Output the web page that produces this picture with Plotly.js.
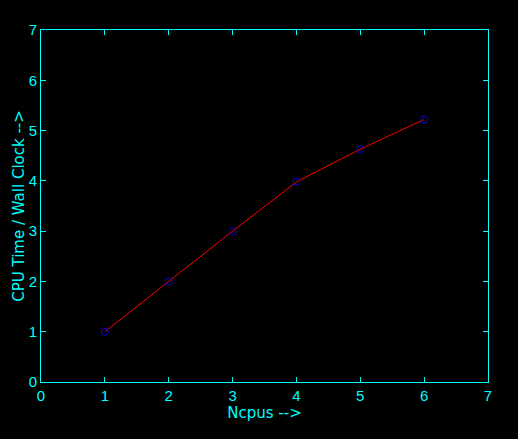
<!DOCTYPE html>
<html><head><meta charset="utf-8">
<script src="https://cdn.plot.ly/plotly-3.0.1.min.js"></script>
<style>html,body{margin:0;padding:0;background:#000;}#plot{width:518px;height:439px;}</style>
</head><body><div id="plot"></div>
<script>
const ncpus = [1, 2, 3, 4, 5, 6];
const ratio = [1.0, 2.0, 3.0, 3.98, 4.63, 5.22];
const tickVals = [0, 1, 2, 3, 4, 5, 6, 7];
const cyan = '#00ffff';
const tickFont = {family: 'Liberation Sans, Arial, sans-serif', size: 15, color: cyan};
const titleFont = {family: 'DejaVu Sans, sans-serif', size: 15, color: cyan};
const axisCommon = {
  range: [0, 7], tickvals: tickVals, ticks: 'inside', ticklen: 5, tickcolor: cyan,
  showline: true, linecolor: cyan, linewidth: 1, mirror: 'ticks', showgrid: false,
  zeroline: false, tickfont: tickFont
};
Plotly.newPlot('plot', [
  {x: ncpus, y: ratio, mode: 'lines', line: {color: '#ff0000', width: 1}, hoverinfo: 'skip'},
  {x: ncpus, y: ratio, mode: 'markers', marker: {symbol: 'circle-open', size: 7, color: '#0000ff', line: {width: 1, color: '#0000ff'}}}
], {
  width: 518, height: 439, paper_bgcolor: '#000', plot_bgcolor: '#000',
  margin: {l: 41, r: 30, t: 30, b: 57}, showlegend: false,
  xaxis: Object.assign({}, axisCommon, {title: {text: 'Ncpus -->', font: titleFont, standoff: 4}}),
  yaxis: Object.assign({}, axisCommon, {title: {text: 'CPU Time / Wall Clock -->', font: titleFont, standoff: 0}})
}, {staticPlot: true});
</script></body></html>
